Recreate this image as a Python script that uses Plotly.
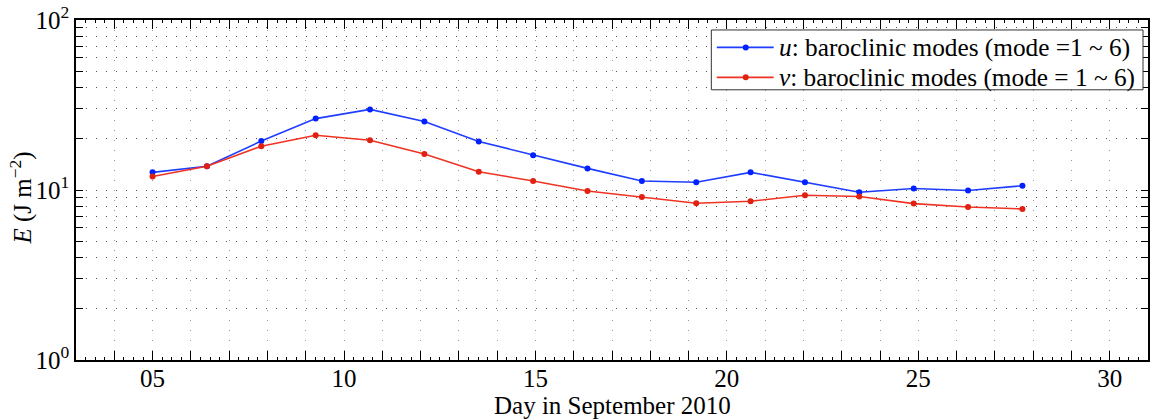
import plotly.graph_objects as go

days = [5.0, 6.42, 7.84, 9.26, 10.68, 12.1, 13.52, 14.94, 16.36, 17.78,
        19.2, 20.62, 22.04, 23.46, 24.88, 26.3, 27.72]
u_energy = [12.7, 13.8, 19.4, 26.3, 29.8, 25.3, 19.3, 16.0, 13.4, 11.3,
            11.1, 12.7, 11.1, 9.7, 10.2, 9.93, 10.6]
v_energy = [12.0, 13.8, 18.1, 21.0, 19.6, 16.3, 12.8, 11.3, 9.87, 9.1,
            8.36, 8.59, 9.31, 9.16, 8.32, 7.95, 7.74]
series_names = ["<i>u</i>: baroclinic modes (mode =1 ~ 6)",
                "<i>v</i>: baroclinic modes (mode = 1 ~ 6)"]
series_colors = ["#1f3dff", "#ef3322"]
marker_colors = ["#0020ff", "#e02010"]

x_tickvals = [5, 10, 15, 20, 25, 30]
x_ticktext = ["05", "10", "15", "20", "25", "30"]
y_tickvals = [1, 10, 100]
y_ticktext = ["10<sup>0</sup>", "10<sup>1</sup>", "10<sup>2</sup>"]
y_minorvals = [m * 10 ** e for e in range(0, 2) for m in range(2, 10)]

FONT = "Liberation Serif"
W, H = 1152, 419
ML, MR, MT, MB = 76, 2, 19, 59
PW, PH = W - ML - MR, H - MT - MB


def px(x):
    return (x - ML) / PW


def py(y):
    return (H - MB - y) / PH


fig = go.Figure()
for yv, nm, lc, mc in zip([u_energy, v_energy], series_names, series_colors, marker_colors):
    fig.add_trace(go.Scatter(
        x=days, y=yv, mode="lines+markers", name=nm,
        line=dict(color=lc, width=1.6),
        marker=dict(color=mc, size=6),
        showlegend=False,
    ))

shapes = [dict(type="rect", xref="paper", yref="paper",
               x0=px(712.5), x1=px(1145), y0=py(89), y1=py(29),
               line=dict(color="#333", width=1), fillcolor="white", layer="above")]
annotations = []
row_y = [46.5, 76.5]
for ry, nm, lc, mc in zip(row_y, series_names, series_colors, marker_colors):
    shapes.append(dict(type="line", xref="paper", yref="paper",
                       x0=px(718), x1=px(775), y0=py(ry), y1=py(ry),
                       line=dict(color=lc, width=1.6), layer="above"))
    shapes.append(dict(type="circle", xref="paper", yref="paper",
                       x0=px(744), x1=px(750), y0=py(ry + 3), y1=py(ry - 3),
                       line=dict(color=mc, width=0), fillcolor=mc, layer="above"))
    annotations.append(dict(xref="paper", yref="paper", x=px(778), y=py(ry),
                            xanchor="left", yanchor="middle", showarrow=False,
                            text=nm, font=dict(family=FONT, size=25.3, color="black")))

annotations.append(dict(xref="paper", yref="paper", x=px(613), y=py(406),
                        xanchor="center", yanchor="middle", showarrow=False,
                        text="Day in September 2010",
                        font=dict(family=FONT, size=25, color="black")))
annotations.append(dict(xref="paper", yref="paper", x=px(21), y=py(198),
                        xanchor="center", yanchor="middle", showarrow=False, textangle=-90,
                        text="<i>E</i> (J m<sup>\u22122</sup>)",
                        font=dict(family=FONT, size=25, color="black")))

fig.update_layout(
    width=W, height=H,
    margin=dict(l=ML, r=MR, t=MT, b=MB),
    paper_bgcolor="white", plot_bgcolor="white",
    font=dict(family=FONT, size=25, color="black"),
    showlegend=False,
    shapes=shapes, annotations=annotations,
    xaxis=dict(
        range=[3, 31], tickmode="array", tickvals=x_tickvals, ticktext=x_ticktext,
        ticks="inside", ticklen=9, tickwidth=1, tickcolor="black",
        showline=True, linecolor="black", linewidth=1.5, mirror="allticks",
        showgrid=True, gridcolor="#9a9a9a", griddash="1px,9px", gridwidth=1,
        zeroline=False, ticklabelstandoff=-5,
        minor=dict(dtick=1, tick0=0, ticks="inside", ticklen=9, tickwidth=1, tickcolor="black",
                   showgrid=True, gridcolor="#9a9a9a", griddash="1px,9px", gridwidth=1),
        tickfont=dict(family=FONT, size=25),
    ),
    xaxis2=dict(
        range=[3, 31], overlaying="x", anchor="y", side="bottom",
        tickmode="linear", tick0=0, dtick=0.25, ticks="inside", ticklen=3,
        tickcolor="black", showticklabels=False, showgrid=False, zeroline=False,
        showline=False, mirror="allticks",
    ),
    yaxis=dict(
        type="log", range=[0, 2], tickmode="array", tickvals=y_tickvals, ticktext=y_ticktext,
        ticks="inside", ticklen=7, tickwidth=1, tickcolor="black",
        showline=True, linecolor="black", linewidth=1.5, mirror="allticks",
        showgrid=True, gridcolor="#555", griddash="1px,9px", gridwidth=1,
        zeroline=False,
        minor=dict(tickvals=y_minorvals, ticks="inside", ticklen=7, tickcolor="black",
                   showgrid=True, gridcolor="#555", griddash="1px,9px", gridwidth=1),
        tickfont=dict(family=FONT, size=25),
    ),
)
# invisible helper trace so the fine-tick overlay axis is drawn
fig.add_trace(go.Scatter(x=[days[0]], y=[u_energy[0]], xaxis="x2", mode="markers",
                         marker=dict(opacity=0), hoverinfo="skip", showlegend=False))

fig.write_html("out.html")
